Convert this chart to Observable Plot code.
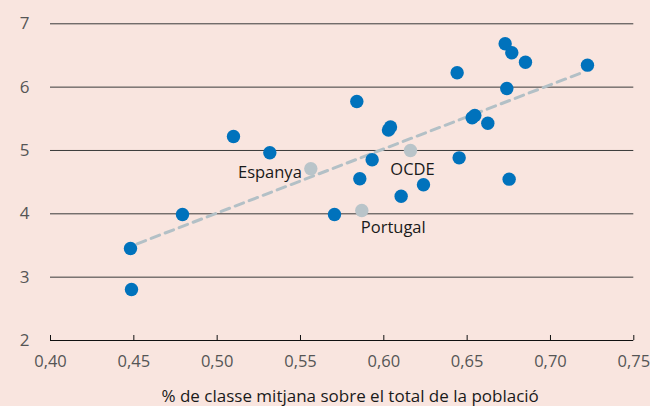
<!DOCTYPE html>
<html>
<head>
<meta charset="utf-8">
<script src="https://cdn.jsdelivr.net/npm/d3@7"></script>
<script src="https://cdn.jsdelivr.net/npm/@observablehq/plot@0.6"></script>
<style>
  html, body { margin: 0; padding: 0; background: #f9e5df; }
  #chart { width: 650px; height: 406px; }
</style>
</head>
<body>
<div id="chart"></div>
<script>
// Blue country points: share of middle class (x) vs value (y)
const countryX = [0.448, 0.4486, 0.4792, 0.5098, 0.5316, 0.5704, 0.5838, 0.5856, 0.593, 0.6028, 0.604, 0.6104, 0.6238, 0.644, 0.6452, 0.653, 0.6546, 0.6624, 0.6728, 0.6768, 0.685, 0.6738, 0.6752, 0.7222];
const countryY = [3.453, 2.805, 3.989, 5.221, 4.964, 3.989, 5.774, 4.553, 4.853, 5.324, 5.371, 4.278, 4.458, 6.227, 4.884, 5.516, 5.553, 5.431, 6.685, 6.543, 6.394, 5.979, 4.547, 6.347];

// Highlighted (gray) points
const highlightNames = ["Espanya", "OCDE", "Portugal"];
const highlightX = [0.5562, 0.616, 0.5868];
const highlightY = [4.711, 5.0, 4.053];

// Trend line endpoints
const trendX = [0.452, 0.719];
const trendY = [3.527, 6.23];

// Axis ticks
const xTicks = [0.40, 0.45, 0.50, 0.55, 0.60, 0.65, 0.70, 0.75];
const yTicks = [2, 3, 4, 5, 6, 7];
const yGrid = [3, 4, 5, 6, 7];
const xTitle = "% de classe mitjana sobre el total de la població";

const countries = countryX.map((x, i) => ({x, y: countryY[i]}));
const highlights = highlightNames.map((name, i) => ({name, x: highlightX[i], y: highlightY[i]}));
const trend = trendX.map((x, i) => ({x, y: trendY[i]}));

// label offsets relative to the highlighted points
const labelDx = [-9, 2, -1];
const labelDy = [4, 19, 17];
const labelAnchor = ["end", "middle", "start"];

const fmt = d => d.toFixed(2).replace(".", ",");
const FONT = "'Open Sans', sans-serif";

const chart = Plot.plot({
  width: 650,
  height: 406,
  marginLeft: 50,
  marginRight: 16.7,
  marginTop: 23.3,
  marginBottom: 66,
  style: {background: "#f9e5df", fontFamily: FONT, fontSize: "16px", color: "#555"},
  x: {domain: [0.40, 0.75], label: null},
  y: {domain: [2, 7], label: null},
  marks: [
    Plot.ruleY(yGrid, {y: d => d, stroke: "#3a3a3a", strokeWidth: 1}),
    Plot.ruleY([2], {y: d => d, stroke: "#111", strokeWidth: 1}),
    Plot.axisY({ticks: yTicks, tickSize: 0, tickPadding: 21, tickFormat: d => String(d), fontSize: 17, color: "#555"}),
    Plot.axisX({ticks: xTicks, tickSize: 0, tickPadding: 15, tickFormat: fmt, fontSize: 16.5, color: "#555"}),
    Plot.axisX({ticks: xTicks, tickSize: 5, dy: -5, tickFormat: () => "", stroke: "#111", color: "#111"}),
    Plot.line(trend, {x: "x", y: "y", stroke: "#b3c0c6", strokeWidth: 3, strokeDasharray: "9,6"}),
    Plot.dot(countries, {x: "x", y: "y", r: 6.7, fill: "#0072bc", stroke: "none"}),
    Plot.dot(highlights, {x: "x", y: "y", r: 6.7, fill: "#b9c4c9", stroke: "none"}),
    ...highlights.map((h, i) => Plot.text([h], {
      x: "x", y: "y", text: "name",
      dx: labelDx[i], dy: labelDy[i], textAnchor: labelAnchor[i],
      fill: "#1a1a1a", fontSize: 16.5, fontFamily: FONT
    })),
    Plot.text([xTitle], {text: d => d, frameAnchor: "bottom", dx: 8, dy: 61, fill: "#1a1a1a", fontSize: 17, fontFamily: FONT})
  ]
});
document.getElementById("chart").appendChild(chart);
</script>
</body>
</html>
